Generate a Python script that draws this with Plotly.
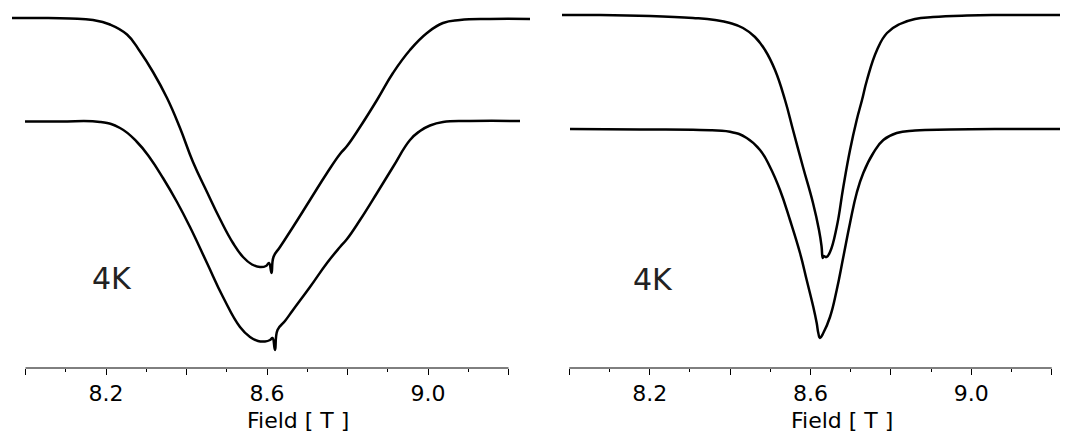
import plotly.graph_objects as go

# ---- data (Field in T, signal in arbitrary units) ----
lt_field = [7.9665, 8.0360, 8.1106, 8.1677, 8.2099, 8.2522, 8.2845, 8.3168, 8.3516, 8.3839,
            8.4161, 8.4509, 8.4832, 8.5155, 8.5404, 8.5627, 8.5826, 8.5975, 8.6050, 8.6112,
            8.6161, 8.6323, 8.6646, 8.7068, 8.7491, 8.7814, 8.7988, 8.8311, 8.8733, 8.9130,
            8.9553, 8.9975, 9.0373, 9.0795, 9.1540, 9.2534]
lt_signal = [3.50, 3.50, 3.495, 3.48, 3.435, 3.335, 3.165, 2.96, 2.70, 2.40,
             2.06, 1.76, 1.49, 1.25, 1.11, 1.035, 1.01, 1.02, 1.05, 0.95,
             1.11, 1.21, 1.41, 1.68, 1.95, 2.14, 2.22, 2.41, 2.68, 2.95,
             3.18, 3.35, 3.45, 3.48, 3.49, 3.49]

lb_field = [7.9988, 8.0857, 8.1851, 8.2348, 8.2770, 8.3093, 8.3416, 8.3764, 8.4087, 8.4509,
            8.4907, 8.5329, 8.5578, 8.5776, 8.5950, 8.6075, 8.6137, 8.6199, 8.6261, 8.6447,
            8.6646, 8.7068, 8.7491, 8.7814, 8.7988, 8.8311, 8.8733, 8.9130, 8.9553, 8.9801,
            9.0050, 9.0373, 9.1043, 9.2286]
lb_signal = [2.465, 2.465, 2.46, 2.40, 2.26, 2.10, 1.90, 1.66, 1.41, 1.05,
             0.71, 0.41, 0.31, 0.27, 0.265, 0.28, 0.30, 0.18, 0.38, 0.47,
             0.58, 0.81, 1.05, 1.21, 1.29, 1.48, 1.75, 2.01, 2.28, 2.37,
             2.425, 2.46, 2.47, 2.47]

rt_field = [7.9818, 8.0764, 8.2007, 8.3077, 8.3624, 8.3998, 8.4321, 8.4619, 8.4868, 8.5117,
            8.5366, 8.5565, 8.5813, 8.6062, 8.6211, 8.6274, 8.6303, 8.6323, 8.6398, 8.6485,
            8.6652, 8.6816, 8.6983, 8.7149, 8.7281, 8.7405, 8.7654, 8.7903, 8.8226, 8.8600,
            8.9047, 8.9893, 9.0714, 9.2356]
rt_signal = [3.53, 3.53, 3.52, 3.50, 3.48, 3.45, 3.40, 3.31, 3.18, 2.98,
             2.68, 2.38, 2.01, 1.65, 1.38, 1.22, 1.10, 1.12, 1.11, 1.16,
             1.41, 1.81, 2.18, 2.48, 2.68, 2.88, 3.18, 3.35, 3.44, 3.49,
             3.51, 3.525, 3.53, 3.53]

rb_field = [8.0017, 8.1759, 8.3251, 8.3998, 8.4413, 8.4744, 8.4993, 8.5241, 8.5490, 8.5739,
            8.5905, 8.6070, 8.6154, 8.6194, 8.6236, 8.6318, 8.6485, 8.6652, 8.6816, 8.6983,
            8.7149, 8.7313, 8.7562, 8.7811, 8.8144, 8.8600, 8.9470, 9.0714, 9.2281]
rb_signal = [2.39, 2.385, 2.38, 2.363, 2.30, 2.18, 2.01, 1.78, 1.48, 1.15,
             0.88, 0.61, 0.45, 0.35, 0.30, 0.35, 0.51, 0.78, 1.11, 1.45,
             1.75, 1.95, 2.15, 2.28, 2.35, 2.375, 2.385, 2.39, 2.39]

tick_vals = [8.0, 8.2, 8.4, 8.6, 8.8, 9.0, 9.2]
tick_text = ["", "8.2", "", "8.6", "", "9.0", ""]
panel_label = "4K"
x_title = "Field [ T ]"

FONT = "DejaVu Sans"
line_style = dict(color="black", width=2.5, shape="spline", smoothing=1.3)

fig = go.Figure()
for fx, sy, xa, ya in [(lt_field, lt_signal, "x", "y"), (lb_field, lb_signal, "x", "y"),
                       (rt_field, rt_signal, "x2", "y2"), (rb_field, rb_signal, "x2", "y2")]:
    fig.add_trace(go.Scatter(x=fx, y=sy, mode="lines", line=line_style,
                             xaxis=xa, yaxis=ya, showlegend=False, hoverinfo="skip"))

xcommon = dict(tickmode="array", tickvals=tick_vals, ticktext=tick_text,
               ticks="outside", ticklen=6, tickwidth=1, tickcolor="black",
               showline=False, showgrid=False, zeroline=False,
               tickfont=dict(family=FONT, size=22, color="black"),
               minor=dict(tickmode="linear", tick0=8.0, dtick=0.1, ticks="outside",
                          ticklen=3, tickwidth=1, tickcolor="black", showgrid=False))
ycommon = dict(range=[0, 3.60], visible=False, showgrid=False, zeroline=False)

split = 526 / 1060
fig.update_layout(
    width=1060, height=431,
    margin=dict(l=0, r=0, t=0, b=71, autoexpand=False),
    paper_bgcolor="white", plot_bgcolor="white",
    xaxis=dict(domain=[0, split], range=[7.95652, 9.26335], anchor="y", **xcommon),
    xaxis2=dict(domain=[split, 1], range=[7.9122, 9.2405], anchor="y2", **xcommon),
    yaxis=dict(anchor="x", **ycommon),
    yaxis2=dict(anchor="x2", **ycommon),
)

for xr in ["x", "x2"]:
    fig.add_shape(type="line", xref=xr, yref="paper", x0=8.0, x1=9.2, y0=0, y1=0,
                  line=dict(color="black", width=1))

for xr, yr, lx, ly in [("x", "y", 8.2149, 0.90), ("x2", "y2", 8.2082, 0.89)]:
    fig.add_annotation(x=lx, y=ly, xref=xr, yref=yr, text=panel_label, showarrow=False,
                       font=dict(family=FONT, size=30, color="#222"))
    fig.add_annotation(x=8.678, y=0, xref=xr, yref="paper", yanchor="middle", yshift=-52,
                       text=x_title, showarrow=False,
                       font=dict(family=FONT, size=22, color="black"))

fig.write_html("out.html")
